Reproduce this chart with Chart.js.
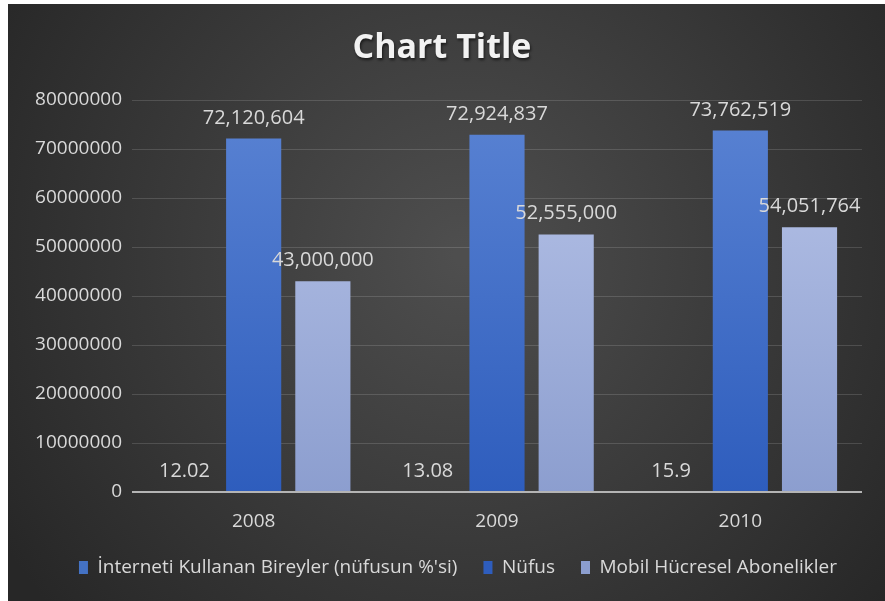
<!DOCTYPE html>
<html>
<head>
<meta charset="utf-8">
<script src="https://cdn.jsdelivr.net/npm/chart.js@4.4.1/dist/chart.umd.min.js"></script>
<style>
  html, body { margin: 0; padding: 0; background: #262626; overflow: hidden; }
  #wrap { position: absolute; left: 8px; top: 4px; width: 877px; height: 597px; }
  .edge { position: absolute; background: #ffffff; }
</style>
</head>
<body>
<div class="edge" style="left:0;top:0;width:8px;height:100%;"></div>
<div class="edge" style="left:0;top:0;width:100%;height:4px;"></div>
<div id="wrap"><canvas id="myChart"></canvas></div>
<script>
// data
const years = ['2008', '2009', '2010'];
const internetUsers = [12.02, 13.08, 15.9];
const population = [72120604, 72924837, 73762519];
const mobileSubs = [43000000, 52555000, 54051764];
const seriesNames = ['İnterneti Kullanan Bireyler (nüfusun %\'si)', 'Nüfus', 'Mobil Hücresel Abonelikler'];
const chartTitle = 'Chart Title';

const ctx = document.getElementById('myChart').getContext('2d');

function vertGradient(chart, top, bottom) {
    const area = chart.chartArea;
    if (!area) return top;
    const g = chart.ctx.createLinearGradient(0, area.top, 0, area.bottom);
    g.addColorStop(0, top);
    g.addColorStop(1, bottom);
    return g;
}

// background + title
const bgPlugin = {
    id: 'bg',
    afterLayout(chart) {
        // legend sits a bit right of centre in the original
        chart.legend.left += 15;
        chart.legend.right += 15;
    },
    beforeDraw(chart) {
        const c = chart.ctx;
        const w = chart.width, h = chart.height;
        c.save();
        const g = c.createRadialGradient(w * 0.52, h * 0.42, 10, w * 0.52, h * 0.42, w * 0.62);
        g.addColorStop(0, '#4e4e4e');
        g.addColorStop(1, '#272727');
        c.fillStyle = g;
        c.fillRect(0, 0, w, h);

        c.font = 'bold 34px "Open Sans"';
        c.fillStyle = '#f2f2f2';
        c.textAlign = 'center';
        c.textBaseline = 'middle';
        c.shadowColor = 'rgba(0,0,0,0.6)';
        c.shadowBlur = 3;
        c.shadowOffsetX = 1;
        c.shadowOffsetY = 2;
        c.fillText(chartTitle, 434, 44);
        c.restore();
    }
};

// zero axis line + value labels above bars
const labelPlugin = {
    id: 'valueLabels',
    afterDatasetsDraw(chart) {
        const c = chart.ctx;
        const area = chart.chartArea;
        const y0 = chart.scales.y.getPixelForValue(0);
        c.save();
        c.strokeStyle = '#b4b4b4';
        c.lineWidth = 2;
        c.beginPath();
        c.moveTo(area.left, y0);
        c.lineTo(area.right, y0);
        c.stroke();

        c.font = '20px "Open Sans"';
        c.fillStyle = '#d9d9d9';
        c.textAlign = 'center';
        c.textBaseline = 'alphabetic';
        chart.data.datasets.forEach((ds, i) => {
            chart.getDatasetMeta(i).data.forEach((bar, j) => {
                const v = ds.data[j];
                const txt = v > 1000 ? v.toLocaleString('en-US') : String(v);
                c.fillText(txt, bar.x, bar.y - 15);
            });
        });
        c.restore();
    }
};

const config = {
    type: 'bar',
    data: {
        labels: years,
        datasets: [
            {
                label: seriesNames[0],
                data: internetUsers,
                backgroundColor: '#4472c4'
            },
            {
                label: seriesNames[1],
                data: population,
                backgroundColor: (c) => vertGradient(c.chart, '#5a83d3', '#2e5dbd')
            },
            {
                label: seriesNames[2],
                data: mobileSubs,
                backgroundColor: (c) => vertGradient(c.chart, '#b9c5e9', '#8c9ecf')
            }
        ]
    },
    options: {
        responsive: true,
        maintainAspectRatio: false,
        animation: false,
        layout: { padding: { left: 16, right: 23, top: 96, bottom: 14 } },
        datasets: {
            bar: { categoryPercentage: 0.853, barPercentage: 0.797 }
        },
        scales: {
            x: {
                grid: { display: false },
                border: { display: false },
                ticks: {
                    color: '#d9d9d9',
                    font: { size: 19, family: '"Open Sans"' },
                    padding: 10
                },
                afterFit(scale) { scale.height = 40; }
            },
            y: {
                min: 0,
                max: 80000000,
                ticks: {
                    stepSize: 10000000,
                    color: '#d9d9d9',
                    font: { size: 19, family: '"Open Sans"' },
                    padding: 10,
                    callback: (v) => String(v)
                },
                grid: {
                    color: 'rgba(255,255,255,0.14)',
                    drawTicks: false
                },
                border: { display: false },
                afterFit(scale) { scale.width = 108; }
            }
        },
        plugins: {
            title: { display: false },
            legend: {
                position: 'bottom',
                labels: {
                    color: '#d9d9d9',
                    font: { size: 19, family: '"Open Sans"' },
                    boxWidth: 9,
                    boxHeight: 13,
                    padding: 26
                }
            },
            tooltip: { enabled: false }
        }
    },
    plugins: [bgPlugin, labelPlugin]
};

const myChart = new Chart(ctx, config);
</script>
</body>
</html>
